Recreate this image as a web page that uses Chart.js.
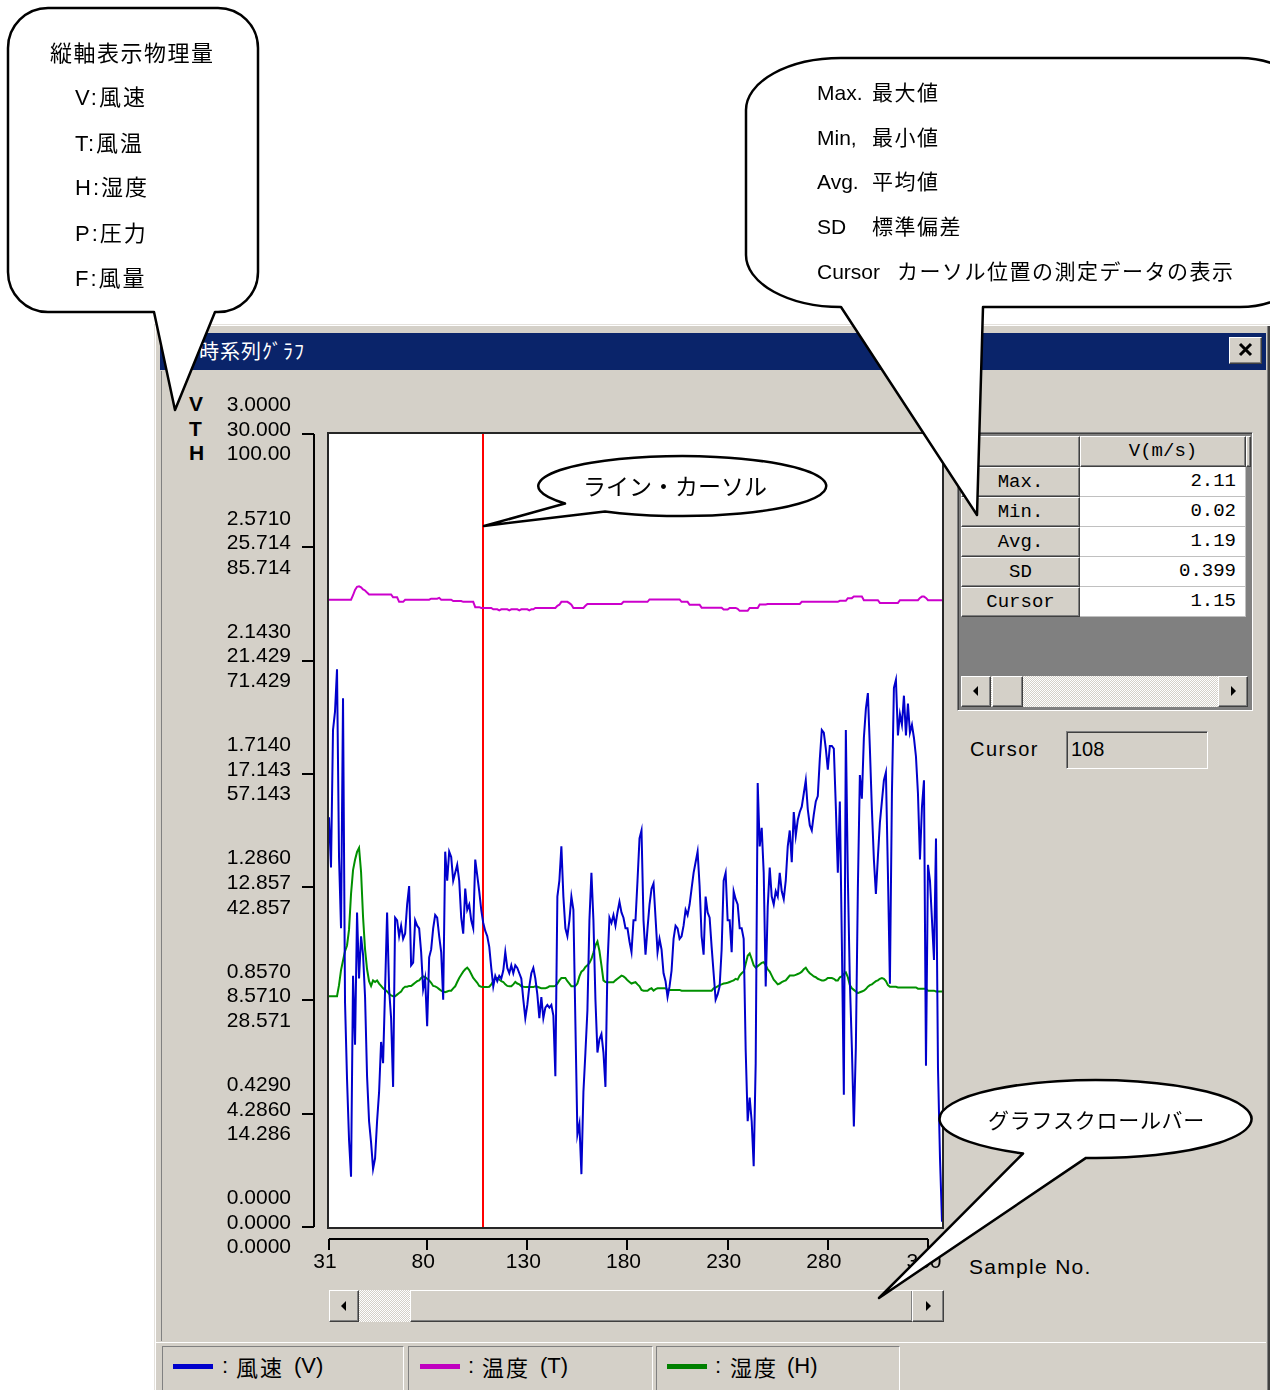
<!DOCTYPE html>
<html lang="ja">
<head>
<meta charset="utf-8">
<title>時系列グラフ</title>
<script src="https://cdn.jsdelivr.net/npm/chart.js@4.4.1/dist/chart.umd.min.js"></script>
<style>
  html, body { margin: 0; padding: 0; background: #fff; }
  body { width: 1270px; height: 1390px; position: relative; overflow: hidden;
         font-family: "Liberation Sans", Arial, sans-serif; color: #000; }
  .abs { position: absolute; box-sizing: border-box; }
  .jp { font-family: "Noto Sans CJK JP", sans-serif; }
  .raised { background: #d4d0c8; border-top: 1px solid #fff; border-left: 1px solid #fff;
            border-right: 1px solid #404040; border-bottom: 1px solid #404040;
            box-shadow: inset -1px -1px 0 #808080; }
  .sunken { border-top: 1px solid #808080; border-left: 1px solid #808080;
            border-right: 1px solid #fff; border-bottom: 1px solid #fff;
            box-shadow: inset 1px 1px 0 #404040; }
  .dither { background: repeating-conic-gradient(#ffffff 0% 25%, #d4d0c8 0% 50%) 0 0 / 2px 2px; }
  .tri-l, .tri-r { position: absolute; width: 0; height: 0;
                   border-top: 5px solid transparent; border-bottom: 5px solid transparent; }
  .tri-l { border-right: 5px solid #000; }
  .tri-r { border-left: 5px solid #000; }
  .mono { font-family: "Liberation Mono", "DejaVu Sans Mono", monospace; font-size: 19px; }
  .cellL { left: 961px; width: 119px; height: 30px; line-height: 28px; text-align: center; }
  .cellV { left: 1080px; width: 166px; height: 30px; line-height: 29px; text-align: right;
           padding-right: 9px; background: #fff; border-bottom: 1px solid #c0c0c0; border-right: 1px solid #c0c0c0; }
  .legtxt { font-size: 22px; line-height: 28px; top: 1352px; }
</style>
</head>
<body>

<!-- window -->
<div class="abs" style="left:154px;top:324px;width:1116px;height:1070px;background:#d4d0c8;
     box-shadow: inset 1px 1px 0 #e4e1dc, inset 2px 2px 0 #fff, inset -2px 0 0 #404040, inset -3px 0 0 #808080;"></div>
<div class="abs" style="left:160px;top:333px;width:1106px;height:37px;background:#0a246a;"></div>
<div class="abs jp" style="left:199px;top:336px;color:#fff;font-size:20px;line-height:30px;letter-spacing:1px;">時系列ｸﾞﾗﾌ</div>
<div class="abs raised" style="left:1229px;top:337px;width:33px;height:27px;">
  <svg width="31" height="25" style="position:absolute;left:0;top:0">
    <path d="M10 6 L21 17 M21 6 L10 17" stroke="#000" stroke-width="3"/>
  </svg>
</div>
<div class="abs" style="left:161px;top:371px;width:1104px;height:970px;border-left:1px solid #808080;"></div>

<!-- axis letters -->
<div class="abs" style="left:189px;top:392px;font-weight:bold;font-size:21px;line-height:24.5px;">V<br>T<br>H</div>
<div class="abs" style="left:969px;top:1255px;font-size:21px;line-height:24px;letter-spacing:1.3px;">Sample No.</div>

<!-- statistics table -->
<div class="abs sunken" style="left:957px;top:432px;width:296px;height:279px;background:#808080;"></div>
<div class="abs raised" style="left:961px;top:436px;width:119px;height:31px;"></div>
<div class="abs raised mono" style="left:1080px;top:436px;width:166px;height:31px;line-height:29px;text-align:center;">V(m/s)</div>
<div class="abs raised" style="left:1246px;top:436px;width:5px;height:31px;"></div>
<div id="statRows"></div>
<div class="abs dither" style="left:961px;top:676px;width:287px;height:31px;"></div>
<div class="abs raised" style="left:961px;top:676px;width:30px;height:31px;"><i class="tri-l" style="left:11px;top:9px"></i></div>
<div class="abs raised" style="left:992px;top:676px;width:31px;height:31px;"></div>
<div class="abs raised" style="left:1218px;top:676px;width:30px;height:31px;"><i class="tri-r" style="left:12px;top:9px"></i></div>

<div class="abs" style="left:970px;top:736px;font-size:20px;line-height:26px;letter-spacing:1.5px;">Cursor</div>
<div class="abs sunken" style="left:1066px;top:731px;width:142px;height:38px;padding-left:4px;font-size:20px;line-height:35px;">108</div>

<!-- plot scroll bar -->
<div class="abs dither" style="left:359px;top:1290px;width:52px;height:32px;"></div>
<div class="abs raised" style="left:329px;top:1290px;width:30px;height:32px;"><i class="tri-l" style="left:11px;top:10px"></i></div>
<div class="abs raised" style="left:410px;top:1290px;width:503px;height:32px;"></div>
<div class="abs raised" style="left:912px;top:1290px;width:32px;height:32px;"><i class="tri-r" style="left:13px;top:10px"></i></div>

<!-- status bar legend -->
<div class="abs" style="left:156px;top:1342px;width:1110px;height:1px;background:#fff;"></div>
<div class="abs sunken" style="left:162px;top:1346px;width:242px;height:50px;box-shadow:none;"></div>
<div class="abs sunken" style="left:408px;top:1346px;width:245px;height:50px;box-shadow:none;"></div>
<div class="abs sunken" style="left:656px;top:1346px;width:244px;height:50px;box-shadow:none;"></div>
<div class="abs" style="left:173px;top:1364px;width:40px;height:5px;background:#0000cc;"></div>
<div class="abs legtxt" style="left:222px;">:</div>
<div class="abs legtxt jp" style="left:236px;letter-spacing:2px;">風速</div>
<div class="abs legtxt" style="left:294px;">(V)</div>
<div class="abs" style="left:420px;top:1364px;width:40px;height:5px;background:#c000c0;"></div>
<div class="abs legtxt" style="left:468px;">:</div>
<div class="abs legtxt jp" style="left:482px;letter-spacing:2px;">温度</div>
<div class="abs legtxt" style="left:540px;">(T)</div>
<div class="abs" style="left:667px;top:1364px;width:40px;height:5px;background:#008000;"></div>
<div class="abs legtxt" style="left:715px;">:</div>
<div class="abs legtxt jp" style="left:730px;letter-spacing:2px;">湿度</div>
<div class="abs legtxt" style="left:787px;">(H)</div>

<!-- chart -->
<canvas id="trendChart" class="abs" width="800" height="900" style="left:160px;top:380px;"></canvas>

<!-- callouts -->
<svg class="abs" width="1270" height="1390" style="left:0;top:0;z-index:5;">
  <g fill="#fff" stroke="#000" stroke-width="2.5" stroke-linejoin="round">
    <path d="M48 8 H218 A40 40 0 0 1 258 48 V272 A40 40 0 0 1 218 312 H215 L175 410 L154 312 H48 A40 40 0 0 1 8 272 V48 A40 40 0 0 1 48 8 Z"/>
    <path d="M841 58 H1240 A70 50 0 0 1 1310 108 V257 A70 50 0 0 1 1240 307 H983 L977 515 L841 307 A95 52 0 0 1 746 255 V110 A95 52 0 0 1 841 58 Z"/>
    <path d="M565 503.5 A144 30 0 1 1 605 511.4 L484 526 Z"/>
    <path d="M1023 1153.5 A156 39 0 1 1 1086 1157.9 L879 1298 Z"/>
  </g>
  <g font-family="Liberation Sans, Noto Sans CJK JP, sans-serif" fill="#000">
    <text x="50" y="61" font-size="22" letter-spacing="1.5">縦軸表示物理量</text>
    <text x="75" y="105" font-size="22" letter-spacing="2">V:風速</text>
    <text x="75" y="151" font-size="22" letter-spacing="2">T:風温</text>
    <text x="75" y="195" font-size="22" letter-spacing="2">H:湿度</text>
    <text x="75" y="241" font-size="22" letter-spacing="2">P:圧力</text>
    <text x="75" y="286" font-size="22" letter-spacing="2">F:風量</text>

    <text y="100" font-size="21"><tspan x="817">Max.</tspan><tspan x="872" letter-spacing="1.5">最大値</tspan></text>
    <text y="145" font-size="21"><tspan x="817">Min,</tspan><tspan x="872" letter-spacing="1.5">最小値</tspan></text>
    <text y="189" font-size="21"><tspan x="817">Avg.</tspan><tspan x="872" letter-spacing="1.5">平均値</tspan></text>
    <text y="234" font-size="21"><tspan x="817">SD</tspan><tspan x="872" letter-spacing="1.5">標準偏差</tspan></text>
    <text y="279" font-size="21"><tspan x="817">Cursor</tspan><tspan x="897" letter-spacing="1.5">カーソル位置の測定データの表示</tspan></text>

    <text x="583" y="495" font-size="23">ライン・カーソル</text>
    <text x="988" y="1128" font-size="21" letter-spacing="0.7">グラフスクロールバー</text>
  </g>
</svg>

<script>
// sample numbers / cursor
const sampleStart = 31;
const sampleEnd = 337;
const cursorSample = 108;
const xTickValues = [31, 80, 130, 180, 230, 280, 330];

// tick labels, bottom to top
const vTickLabels = ['0.0000', '0.4290', '0.8570', '1.2860', '1.7140', '2.1430', '2.5710', '3.0000'];
const tTickLabels = ['0.0000', '4.2860', '8.5710', '12.857', '17.143', '21.429', '25.714', '30.000'];
const hTickLabels = ['0.0000', '14.286', '28.571', '42.857', '57.143', '71.429', '85.714', '100.00'];

// stats table
const statNames = ['Max.', 'Min.', 'Avg.', 'SD', 'Cursor'];
const statValues = ['2.11', '0.02', '1.19', '0.399', '1.15'];

// V: wind speed (m/s), one value per sample from 31
const windSpeed = [
  1.55, 1.36, 1.88, 1.95, 2.11, 1.40, 1.13, 2.00, 0.85, 0.56,
  0.33, 0.19, 0.95, 0.69, 1.19, 0.94, 1.10, 1.03, 0.87, 0.57,
  0.40, 0.32, 0.22, 0.26, 0.40, 0.51, 0.70, 0.62, 0.90, 1.19,
  0.90, 0.79, 0.53, 1.17, 1.16, 1.10, 1.14, 1.09, 1.11, 1.22,
  1.29, 0.99, 1.00, 1.16, 1.14, 1.13, 1.04, 0.90, 0.94, 0.76,
  1.02, 1.05, 1.13, 1.18, 1.17, 1.10, 1.04, 0.86, 1.42, 1.31,
  1.42, 1.40, 1.31, 1.34, 1.37, 1.31, 1.17, 1.11, 1.28, 1.20,
  1.22, 1.16, 1.13, 1.39, 1.33, 1.27, 1.20, 1.15, 1.12, 1.10,
  1.06, 0.98, 0.91, 0.95, 0.93, 0.95, 0.94, 0.97, 1.04, 0.98,
  0.96, 0.99, 0.96, 0.99, 0.98, 0.96, 0.94, 0.86, 0.79, 0.84,
  0.91, 0.96, 0.98, 0.94, 0.88, 0.79, 0.87, 0.79, 0.83, 0.84,
  0.83, 0.84, 0.80, 0.57, 1.25, 1.31, 1.44, 1.25, 1.13, 1.10,
  1.16, 1.25, 1.20, 0.77, 0.35, 0.39, 0.20, 0.51, 0.66, 0.82,
  1.16, 1.34, 1.16, 0.86, 0.66, 0.71, 0.73, 0.66, 0.53, 0.99,
  1.17, 1.15, 1.18, 1.14, 1.19, 1.23, 1.19, 1.17, 1.13, 1.13,
  1.08, 1.04, 1.16, 1.16, 1.31, 1.47, 1.50, 1.16, 1.03, 1.13,
  1.22, 1.28, 1.30, 1.17, 1.04, 1.09, 1.05, 0.96, 0.93, 0.87,
  0.91, 0.97, 1.09, 1.14, 1.13, 1.09, 1.10, 1.14, 1.20, 1.18,
  1.22, 1.28, 1.34, 1.38, 1.42, 1.29, 1.10, 1.03, 1.25, 1.19,
  1.17, 1.06, 0.96, 0.86, 0.88, 0.91, 1.05, 1.31, 1.34, 1.16,
  1.16, 1.04, 1.27, 1.24, 1.22, 1.13, 1.13, 1.09, 0.67, 0.40,
  0.49, 0.40, 0.23, 0.62, 1.68, 1.44, 1.51, 1.34, 0.91, 1.21,
  1.36, 1.25, 1.22, 1.27, 1.25, 1.34, 1.27, 1.24, 1.31, 1.44,
  1.50, 1.38, 1.57, 1.48, 1.54, 1.57, 1.59, 1.64, 1.69, 1.58,
  1.52, 1.50, 1.56, 1.61, 1.63, 1.77, 1.88, 1.87, 1.81, 1.73,
  1.82, 1.82, 1.81, 1.59, 1.34, 1.61, 1.08, 0.50, 1.88, 1.32,
  0.93, 0.68, 0.38, 0.68, 1.28, 1.71, 1.62, 1.85, 1.96, 2.02,
  1.81, 1.58, 1.39, 1.26, 1.40, 1.53, 1.61, 1.69, 1.72, 1.34,
  0.92, 1.64, 2.04, 2.07, 1.86, 1.94, 1.90, 2.01, 1.86, 1.98,
  1.87, 1.90, 1.85, 1.78, 1.64, 1.39, 1.59, 1.69, 0.61, 1.37,
  1.31, 1.16, 1.01, 1.47, 0.60, 0.26, 0.02
];

// T: temperature (°C)
const temperature = [
  23.73, 23.73, 23.73, 23.73, 23.73, 23.73, 23.73, 23.73, 23.73, 23.73,
  23.73, 23.73, 23.90, 24.10, 24.22, 24.24, 24.20, 24.12, 24.08, 24.00,
  23.93, 23.93, 23.93, 23.93, 23.93, 23.93, 23.93, 23.93, 23.93, 23.93,
  23.93, 23.93, 23.82, 23.82, 23.82, 23.65, 23.65, 23.65, 23.73, 23.73,
  23.73, 23.73, 23.73, 23.73, 23.73, 23.73, 23.73, 23.73, 23.73, 23.73,
  23.73, 23.77, 23.77, 23.77, 23.77, 23.80, 23.73, 23.73, 23.73, 23.73,
  23.73, 23.73, 23.68, 23.68, 23.68, 23.68, 23.68, 23.65, 23.65, 23.65,
  23.65, 23.65, 23.65, 23.45, 23.45, 23.45, 23.42, 23.42, 23.42, 23.42,
  23.42, 23.42, 23.37, 23.37, 23.37, 23.33, 23.37, 23.37, 23.37, 23.37,
  23.33, 23.37, 23.37, 23.37, 23.37, 23.33, 23.37, 23.37, 23.37, 23.37,
  23.33, 23.37, 23.37, 23.42, 23.42, 23.42, 23.42, 23.42, 23.42, 23.42,
  23.42, 23.42, 23.42, 23.42, 23.50, 23.54, 23.65, 23.65, 23.65, 23.65,
  23.60, 23.54, 23.42, 23.42, 23.42, 23.42, 23.42, 23.42, 23.50, 23.57,
  23.57, 23.57, 23.57, 23.57, 23.57, 23.57, 23.57, 23.57, 23.57, 23.57,
  23.57, 23.57, 23.57, 23.57, 23.57, 23.57, 23.57, 23.65, 23.65, 23.65,
  23.65, 23.65, 23.65, 23.65, 23.65, 23.65, 23.65, 23.65, 23.65, 23.65,
  23.74, 23.74, 23.74, 23.74, 23.74, 23.74, 23.74, 23.74, 23.74, 23.74,
  23.74, 23.74, 23.74, 23.74, 23.74, 23.74, 23.65, 23.65, 23.65, 23.65,
  23.54, 23.54, 23.54, 23.54, 23.54, 23.54, 23.43, 23.43, 23.43, 23.43,
  23.43, 23.43, 23.43, 23.43, 23.43, 23.43, 23.43, 23.36, 23.36, 23.36,
  23.42, 23.42, 23.42, 23.42, 23.39, 23.31, 23.31, 23.31, 23.31, 23.31,
  23.42, 23.42, 23.42, 23.42, 23.42, 23.55, 23.55, 23.55, 23.55, 23.57,
  23.57, 23.57, 23.57, 23.57, 23.57, 23.57, 23.57, 23.57, 23.57, 23.57,
  23.57, 23.57, 23.57, 23.57, 23.57, 23.57, 23.65, 23.65, 23.65, 23.65,
  23.65, 23.65, 23.65, 23.65, 23.65, 23.65, 23.65, 23.65, 23.65, 23.65,
  23.65, 23.65, 23.65, 23.65, 23.65, 23.69, 23.69, 23.69, 23.69, 23.79,
  23.79, 23.79, 23.85, 23.85, 23.85, 23.85, 23.85, 23.71, 23.71, 23.71,
  23.71, 23.71, 23.71, 23.71, 23.71, 23.61, 23.61, 23.61, 23.61, 23.61,
  23.61, 23.61, 23.61, 23.61, 23.61, 23.71, 23.71, 23.71, 23.71, 23.71,
  23.71, 23.71, 23.71, 23.71, 23.71, 23.80, 23.85, 23.85, 23.80, 23.71,
  23.71, 23.71, 23.71, 23.71, 23.71, 23.71, 23.71
];

// H: humidity (%)
const humidity = [
  29.1, 29.1, 29.1, 29.1, 29.1, 30.5, 32.4, 33.6, 34.8, 35.5,
  37.5, 42.0, 45.0, 46.3, 47.3, 47.8, 44.8, 39.1, 35.0, 32.5,
  31.0, 30.4, 31.1, 30.9, 31.1, 30.7, 30.4, 30.1, 29.9, 29.7,
  29.4, 29.2, 29.1, 29.1, 29.3, 29.5, 29.7, 30.1, 30.3, 30.3,
  30.4, 30.4, 30.6, 30.8, 31.0, 31.1, 31.4, 31.6, 31.5, 31.3,
  31.1, 30.8, 30.4, 30.35, 30.2, 30.0, 29.8, 29.7, 29.6, 29.7,
  29.8, 29.8, 30.1, 30.35, 30.9, 31.4, 31.8, 32.2, 32.5, 32.7,
  32.4, 31.9, 31.4, 31.1, 30.8, 30.4, 30.3, 30.25, 30.25, 30.25,
  30.3, 30.6, 31.0, 31.4, 31.4, 31.2, 31.0, 30.9, 30.6, 30.4,
  30.35, 30.35, 30.6, 30.9, 30.7, 30.6, 30.35, 30.3, 30.25, 30.25,
  30.25, 30.25, 30.25, 30.35, 30.3, 30.2, 30.1, 30.1, 30.1, 30.2,
  30.35, 30.35, 30.35, 30.4, 30.7, 31.1, 31.4, 31.4, 31.4, 31.0,
  30.7, 30.35, 30.35, 30.4, 30.7, 31.6, 32.2, 32.4, 32.8, 33.0,
  33.3, 33.8, 34.6, 35.5, 36.0, 34.8, 33.0, 31.1, 30.9, 30.87,
  30.87, 30.87, 30.87, 31.1, 31.3, 31.5, 31.7, 31.6, 31.4, 31.1,
  30.9, 30.7, 30.8, 30.87, 30.6, 30.35, 29.9, 29.8, 29.8, 29.8,
  30.0, 30.1, 29.8, 30.0, 30.1, 30.1, 30.1, 30.1, 30.1, 29.9,
  29.9, 29.9, 29.9, 29.9, 29.9, 29.9, 29.8, 29.8, 29.8, 29.8,
  29.8, 29.8, 29.8, 29.8, 29.8, 29.8, 29.8, 29.8, 29.8, 29.8,
  29.8, 29.8, 30.1, 30.2, 30.35, 30.5, 30.6, 30.7, 30.75, 30.8,
  30.9, 31.0, 31.1, 31.3, 31.2, 31.7, 32.0, 32.2, 33.2, 34.2,
  34.5, 33.8, 33.0, 32.7, 32.9, 33.1, 33.3, 33.4, 33.0, 32.5,
  32.2, 31.7, 31.2, 30.9, 30.6, 30.7, 30.87, 31.0, 31.1, 31.4,
  31.7, 31.7, 31.7, 31.8, 31.9, 32.0, 32.2, 32.5, 32.7, 32.3,
  32.0, 31.8, 31.6, 31.5, 31.3, 31.2, 31.1, 31.1, 31.2, 31.4,
  31.4, 31.4, 31.3, 31.1, 31.1, 31.5, 31.6, 31.9, 32.1, 31.5,
  30.5, 30.1, 29.9, 29.7, 29.5, 29.6, 29.7, 29.8, 30.0, 30.3,
  30.5, 30.6, 30.8, 31.0, 31.1, 31.3, 31.4, 31.3, 31.0, 30.5,
  30.3, 30.3, 30.3, 30.3, 30.2, 30.2, 30.2, 30.2, 30.2, 30.2,
  30.2, 30.2, 30.2, 30.2, 30.05, 30.05, 30.05, 30.05, 30.05, 29.8,
  29.8, 29.8, 29.8, 29.7, 29.7, 29.7, 29.7
];

// table rows
const rowsEl = document.getElementById('statRows');
statNames.forEach((name, i) => {
  const top = 467 + i * 30;
  rowsEl.insertAdjacentHTML('beforeend',
    `<div class="abs raised mono cellL" style="top:${top}px">${name}</div>` +
    `<div class="abs mono cellV" style="top:${top}px">${statValues[i]}</div>`);
});

const toPoints = arr => arr.map((v, i) => ({ x: sampleStart + i, y: v }));
const tickFont = { family: '"Liberation Sans", Arial, sans-serif', size: 21 };

// white plot box, red cursor, and the offset axis lines of the original window
const plotFrame = {
  id: 'plotFrame',
  beforeDatasetsDraw(chart) {
    const { ctx, chartArea: a, scales } = chart;
    ctx.save();
    ctx.fillStyle = '#fff';
    ctx.fillRect(a.left, a.top, a.right - a.left, a.bottom - a.top);
    const cx = Math.round(scales.x.getPixelForValue(cursorSample));
    ctx.strokeStyle = '#ff0000';
    ctx.lineWidth = 2;
    ctx.beginPath(); ctx.moveTo(cx, a.top); ctx.lineTo(cx, a.bottom); ctx.stroke();
    ctx.restore();
  },
  afterDatasetsDraw(chart) {
    const { ctx, chartArea: a, scales } = chart;
    ctx.save();
    ctx.strokeStyle = '#262626';
    ctx.lineWidth = 2;
    ctx.strokeRect(a.left - 1, a.top - 1, a.right - a.left + 2, a.bottom - a.top + 2);

    ctx.strokeStyle = '#000';
    const ax = a.left - 15;
    const yTop = scales.y.getPixelForValue(scales.y.max);
    const yBot = scales.y.getPixelForValue(scales.y.min);
    ctx.beginPath();
    ctx.moveTo(ax, yTop); ctx.lineTo(ax, yBot);
    scales.y.ticks.forEach(t => {
      const py = Math.round(scales.y.getPixelForValue(t.value));
      ctx.moveTo(ax - 12, py); ctx.lineTo(ax, py);
    });
    ctx.stroke();

    const ay = a.bottom + 12;
    const xs = scales.x.ticks.map(t => Math.round(scales.x.getPixelForValue(t.value)));
    ctx.beginPath();
    ctx.moveTo(xs[0], ay); ctx.lineTo(xs[xs.length - 1], ay);
    xs.forEach(px => { ctx.moveTo(px, ay); ctx.lineTo(px, ay + 11); });
    ctx.stroke();
    ctx.restore();
  }
};

new Chart(document.getElementById('trendChart'), {
  type: 'line',
  data: {
    datasets: [
      { label: '風速 (V)', data: toPoints(windSpeed), yAxisID: 'y', borderColor: '#0000cc', borderWidth: 2 },
      { label: '温度 (T)', data: toPoints(temperature), yAxisID: 'yT', borderColor: '#cc00cc', borderWidth: 2 },
      { label: '湿度 (H)', data: toPoints(humidity), yAxisID: 'yH', borderColor: '#009000', borderWidth: 2 },
    ],
  },
  options: {
    responsive: false,
    animation: false,
    events: [],
    elements: { point: { radius: 0 }, line: { tension: 0, fill: false } },
    layout: { padding: { top: 54, right: 18, left: 0, bottom: 0 } },
    plugins: { legend: { display: false }, tooltip: { enabled: false } },
    scales: {
      x: {
        type: 'linear', min: sampleStart, max: sampleEnd,
        grid: { display: false, drawTicks: false }, border: { display: false },
        afterBuildTicks: s => { s.ticks = xTickValues.map(v => ({ value: v })); },
        // fixed height, and no extra room for the end labels
        afterFit: s => { s.height = 53; s.paddingLeft = 0; s.paddingRight = 0; },
        ticks: { autoSkip: false, maxRotation: 0, padding: 23, labelOffset: -4, color: '#000',
                 font: { ...tickFont, lineHeight: 1.2 }, callback: v => String(v) },
      },
      y: {
        min: 0, max: 3,
        grid: { display: false, drawTicks: false }, border: { display: false },
        afterFit: s => { s.width = 169; s.paddingTop = 0; s.paddingBottom = 0; },
        ticks: { count: 8, padding: 38, labelOffset: -4, color: '#000',
                 font: { ...tickFont, lineHeight: 1.17 },
                 callback: (v, i) => [vTickLabels[i], tTickLabels[i], hTickLabels[i]] },
      },
      yT: { display: false, min: 0, max: 30 },
      yH: { display: false, min: 0, max: 100 },
    },
  },
  plugins: [plotFrame],
});
</script>
</body>
</html>
